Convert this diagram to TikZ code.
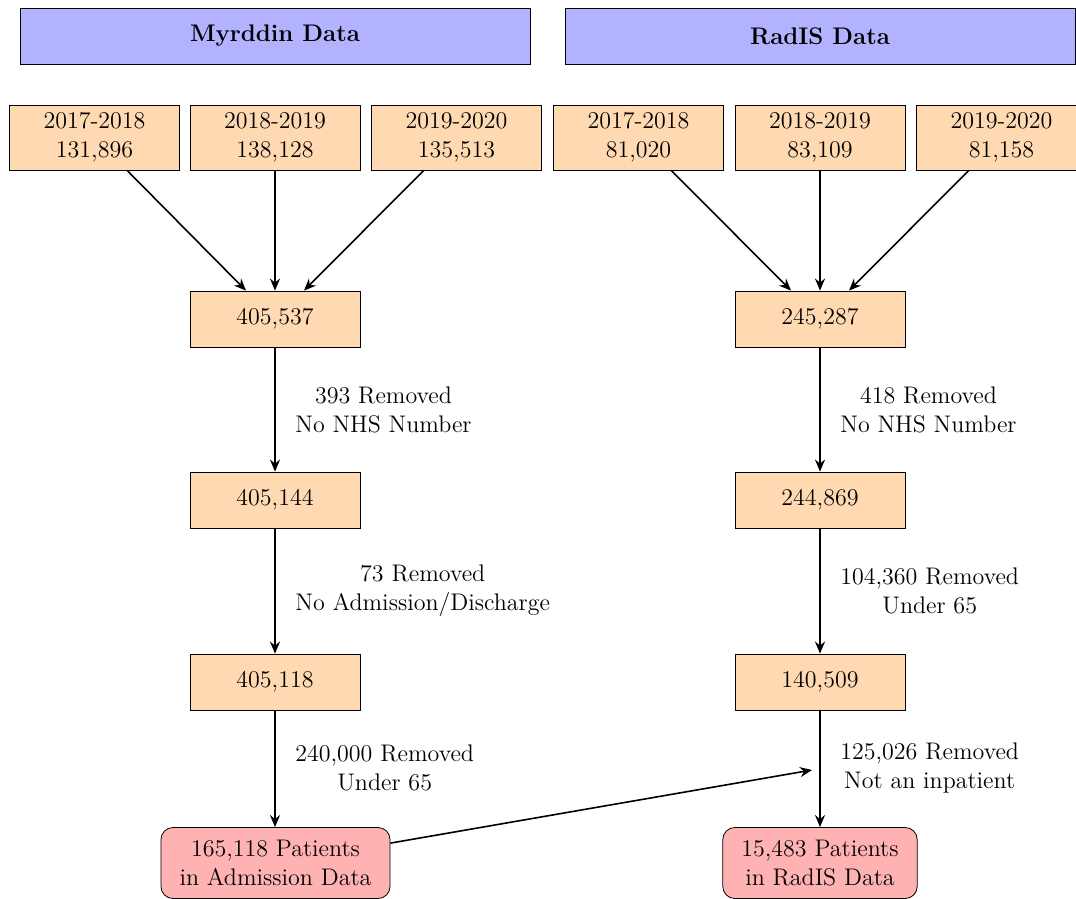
\documentclass[tikz,border=0pt,12pt]{standalone}
\usetikzlibrary{arrows.meta,calc}
\begin{document}
\begin{tikzpicture}[x=0.5pt,y=-0.5pt,
  header/.style={draw, fill=blue!30, minimum width=255pt, minimum height=28pt, font=\bfseries},
  yearbox/.style={draw, fill=orange!30, minimum width=85pt, minimum height=32.5pt, align=center, inner sep=2pt},
  countbox/.style={draw, fill=orange!30, minimum width=85pt, minimum height=28pt},
  finalbox/.style={draw, fill=red!30, rounded corners=6pt, align=center, minimum height=35.5pt, inner ysep=4pt, inner xsep=9.3pt},
  flow/.style={-{Stealth[length=6pt,width=5pt]}, thick},
  note/.style={align=center, anchor=west}
]
\useasboundingbox (0,0) rectangle (1076,899);

% column headers
\node[header] (hM) at (275,36) {Myrddin Data};
\node[header] (hR) at (820,36) {RadIS Data};

% yearly extracts
\node[yearbox] (m17) at (94.5,137.5) {2017-2018\\131,896};
\node[yearbox] (m18) at (275,137.5) {2018-2019\\138,128};
\node[yearbox] (m19) at (456.5,137.5) {2019-2020\\135,513};
\node[yearbox] (r17) at (638.5,137.5) {2017-2018\\81,020};
\node[yearbox] (r18) at (820,137.5) {2018-2019\\83,109};
\node[yearbox] (r19) at (1001.5,137.5) {2019-2020\\81,158};

% Myrddin cleaning chain
\node[countbox] (m1) at (275,319) {405,537};
\node[countbox] (m2) at (275,500) {405,144};
\node[countbox] (m3) at (275,682) {405,118};
\node[finalbox] (mf) at (275.5,863) {165,118 Patients\\in Admission Data};

% RadIS cleaning chain
\node[countbox] (r1) at (820,319) {245,287};
\node[countbox] (r2) at (820,500) {244,869};
\node[countbox] (r3) at (820,682) {140,509};
\node[finalbox] (rf) at (820,863) {15,483 Patients\\in RadIS Data};

% merging the yearly files
\coordinate (m1l) at ($(m1.north)+(-29,0)$);
\coordinate (m1r) at ($(m1.north)+(29,0)$);
\coordinate (r1l) at ($(r1.north)+(-29,0)$);
\coordinate (r1r) at ($(r1.north)+(29,0)$);
\draw[flow] (m17) -- (m1l);
\draw[flow] (m18) -- (m1.north);
\draw[flow] (m19) -- (m1r);
\draw[flow] (r17) -- (r1l);
\draw[flow] (r18) -- (r1.north);
\draw[flow] (r19) -- (r1r);

% exclusion steps
\draw[flow] (m1) -- (m2);
\draw[flow] (m2) -- (m3);
\draw[flow] (m3) -- (m3 |- mf.north);
\draw[flow] (r1) -- (r2);
\draw[flow] (r2) -- (r3);
\draw[flow] (r3) -- (rf);

\node[note] (n1) at (287,409.5) {393 Removed\\No NHS Number};
\node[note] (n2) at (287,591) {73 Removed\\No Admission/Discharge};
\node[note] (n3) at (287,768) {240,000 Removed\\Under 65};
\node[note] (n4) at (832,409.5) {418 Removed\\No NHS Number};
\node[note] (n5) at (832,591) {104,360 Removed\\Under 65};
\node[note] (n6) at (832,768) {125,026 Removed\\Not an inpatient};

% admission data feeds the inpatient filter
\coordinate (link) at (812,770);
\draw[flow] (mf) -- (link);
\end{tikzpicture}
\end{document}
